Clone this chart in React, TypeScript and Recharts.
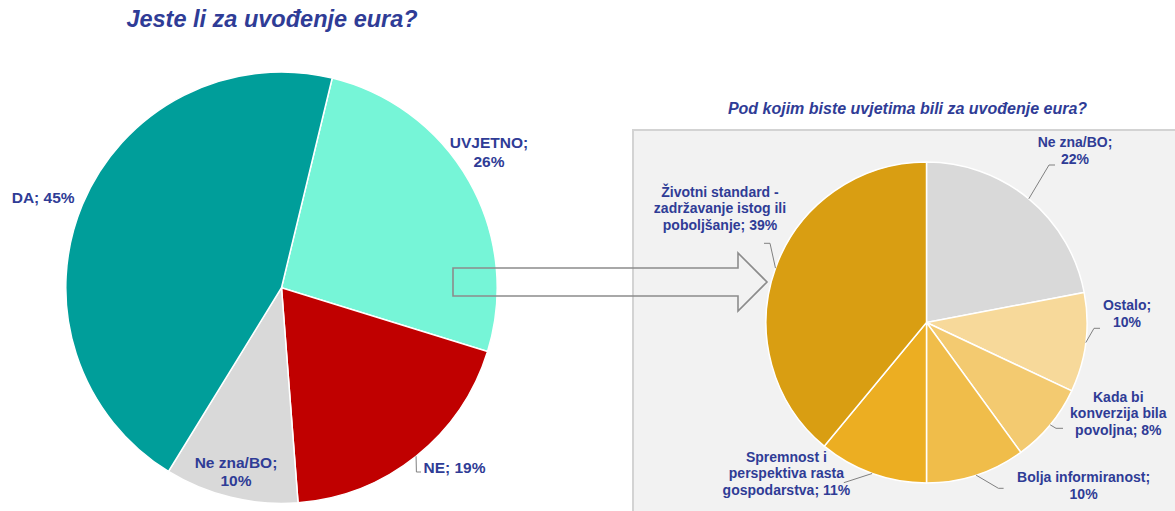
import React from 'react';
import { PieChart, Pie, Cell } from 'recharts';

// ---------- data ----------
const LEFT_CATEGORIES = ['UVJETNO', 'NE', 'Ne zna/BO', 'DA'];
const LEFT_VALUES = [26, 19, 10, 45];
const LEFT_LABEL_LINES = [['UVJETNO;', '26%'], ['NE; 19%'], ['Ne zna/BO;', '10%'], ['DA; 45%']];

const RIGHT_CATEGORIES = [
  'Ne zna/BO',
  'Ostalo',
  'Kada bi konverzija bila povoljna',
  'Bolja informiranost',
  'Spremnost i perspektiva rasta gospodarstva',
  'Životni standard - zadržavanje istog ili poboljšanje',
];
const RIGHT_VALUES = [22, 10, 8, 10, 11, 39];
const RIGHT_LABEL_LINES = [
  ['Ne zna/BO;', '22%'],
  ['Ostalo;', '10%'],
  ['Kada bi', 'konverzija bila', 'povoljna; 8%'],
  ['Bolja informiranost;', '10%'],
  ['Spremnost i', 'perspektiva rasta', 'gospodarstva; 11%'],
  ['Životni standard -', 'zadržavanje istog ili', 'poboljšanje; 39%'],
];

const MAIN_TITLE = 'Jeste li za uvođenje eura?';
const SUB_TITLE = 'Pod kojim biste uvjetima bili za uvođenje eura?';

// ---------- styles / layout ----------
const LEFT_COLORS = ['#76F5D7', '#C00000', '#D9D9D9', '#009E9A'];
const RIGHT_COLORS = ['#D9D9D9', '#F7D99A', '#F3CA70', '#F0BD4A', '#ECAE22', '#D99E12'];
const TEXT_COLOR = '#2F3C96';
const LEADER_COLOR = '#808080';
const FONT = '"Liberation Sans", Arial, Helvetica, sans-serif';

const LEFT_PIE = { cx: 281.5, cy: 287.7, r: 215.7, start: 76.4 };
const RIGHT_PIE = { cx: 926.5, cy: 322.5, r: 160.5, start: 90 };

type LabelLayout = { dx: number; dy: number; anchor: 'start' | 'middle' | 'end'; leader?: number[][] };

const LEFT_LABEL_LAYOUT: LabelLayout[] = [
  { dx: 207.5, dy: -139.4, anchor: 'middle' },
  { dx: 142, dy: 184.8, anchor: 'start', leader: [[134.9, 184.3], [139.5, 184.3]] },
  { dx: -45.5, dy: 179.8, anchor: 'middle' },
  { dx: -269.8, dy: -85, anchor: 'start' },
];

const RIGHT_LABEL_LAYOUT: LabelLayout[] = [
  { dx: 148.5, dy: -175.2, anchor: 'middle', leader: [[122.5, -157.5], [128.5, -157.5]] },
  { dx: 200.5, dy: -12.5, anchor: 'middle', leader: [[167.5, 5.8], [173.5, 5.8]] },
  { dx: 191.8, dy: 79.2, anchor: 'middle', leader: [[129.5, 105.8], [136.5, 105.8]] },
  { dx: 157.1, dy: 159.8, anchor: 'middle', leader: [[71.9, 165.8], [77.1, 165.8]] },
  { dx: -140.1, dy: 139.2, anchor: 'middle', leader: [[-82.7, 160.2]] },
  { dx: -206.5, dy: -125.8, anchor: 'middle', leader: [[-156.5, -79.2], [-162.5, -79.2]] },
];

const leftData = LEFT_CATEGORIES.map((name, i) => ({ name, value: LEFT_VALUES[i] }));
const rightData = RIGHT_CATEGORIES.map((name, i) => ({ name, value: RIGHT_VALUES[i] }));

const RAD = Math.PI / 180;
const polar = (cx: number, cy: number, r: number, angle: number) => ({
  x: cx + Math.cos(-RAD * angle) * r,
  y: cy + Math.sin(-RAD * angle) * r,
});

const makeLabel = (
  lines: string[][],
  layout: LabelLayout[],
  fontSize: number,
  lineHeight: number
) => (props: any) => {
  const { cx, cy, midAngle, outerRadius, index } = props;
  const l = layout[index];
  const txt = lines[index];
  const edge = polar(cx, cy, outerRadius, midAngle);
  let path = '';
  if (l.leader) {
    path = `M${edge.x},${edge.y}` + l.leader.map((p) => ` L${cx + p[0]},${cy + p[1]}`).join('');
  }
  return (
    <g key={`lbl-${index}`}>
      {path && <path d={path} stroke={LEADER_COLOR} strokeWidth={1} fill="none" />}
      <text
        x={cx + l.dx}
        y={cy + l.dy}
        textAnchor={l.anchor}
        fill={TEXT_COLOR}
        fontFamily={FONT}
        fontWeight="bold"
        fontSize={fontSize}
      >
        {txt.map((t, i) => (
          <tspan key={i} x={cx + l.dx} y={cy + l.dy + i * lineHeight}>
            {t}
          </tspan>
        ))}
      </text>
    </g>
  );
};

const leftLabel = makeLabel(LEFT_LABEL_LINES, LEFT_LABEL_LAYOUT, 15.5, 18.4);
const rightLabel = makeLabel(RIGHT_LABEL_LINES, RIGHT_LABEL_LAYOUT, 14, 16.6);

export default function App() {
  return (
    <div
      style={{
        position: 'absolute',
        left: 0,
        top: 0,
        width: 1175,
        height: 511,
        background: '#ffffff',
        overflow: 'hidden',
        fontFamily: FONT,
      }}
    >
      {/* right panel background */}
      <div
        style={{
          position: 'absolute',
          left: 632,
          top: 129,
          width: 600,
          height: 420,
          boxSizing: 'border-box',
          background: '#F2F2F2',
          border: '2px solid #D3D3D3',
        }}
      />
      <div style={{ position: 'absolute', left: 0, top: 0 }}>
        <PieChart width={1175} height={511} margin={{ top: 0, right: 0, bottom: 0, left: 0 }}>
          <Pie
            data={leftData}
            dataKey="value"
            nameKey="name"
            cx={LEFT_PIE.cx}
            cy={LEFT_PIE.cy}
            outerRadius={LEFT_PIE.r}
            startAngle={LEFT_PIE.start}
            endAngle={LEFT_PIE.start - 360}
            stroke="#ffffff"
            strokeWidth={1.5}
            label={leftLabel}
            labelLine={false}
            isAnimationActive={false}
          >
            {leftData.map((d, i) => (
              <Cell key={d.name} fill={LEFT_COLORS[i]} />
            ))}
          </Pie>
          <Pie
            data={rightData}
            dataKey="value"
            nameKey="name"
            cx={RIGHT_PIE.cx}
            cy={RIGHT_PIE.cy}
            outerRadius={RIGHT_PIE.r}
            startAngle={RIGHT_PIE.start}
            endAngle={RIGHT_PIE.start - 360}
            stroke="#ffffff"
            strokeWidth={1.5}
            label={rightLabel}
            labelLine={false}
            isAnimationActive={false}
          >
            {rightData.map((d, i) => (
              <Cell key={d.name} fill={RIGHT_COLORS[i]} />
            ))}
          </Pie>
        </PieChart>
      </div>
      {/* overlay: titles and arrow */}
      <svg
        width={1175}
        height={511}
        style={{ position: 'absolute', left: 0, top: 0, pointerEvents: 'none' }}
      >
        <text
          x={272}
          y={27}
          textAnchor="middle"
          fill={TEXT_COLOR}
          fontFamily={FONT}
          fontWeight="bold"
          fontStyle="italic"
          fontSize={23.5}
        >
          {MAIN_TITLE}
        </text>
        <text
          x={907.5}
          y={113.5}
          textAnchor="middle"
          fill={TEXT_COLOR}
          fontFamily={FONT}
          fontWeight="bold"
          fontStyle="italic"
          fontSize={16}
        >
          {SUB_TITLE}
        </text>
        <path
          d="M453,268 L738,268 L738,253 L767,282 L738,311 L738,296 L453,296 Z"
          fill="none"
          stroke="#8C8C8C"
          strokeWidth={1.6}
        />
      </svg>
    </div>
  );
}
